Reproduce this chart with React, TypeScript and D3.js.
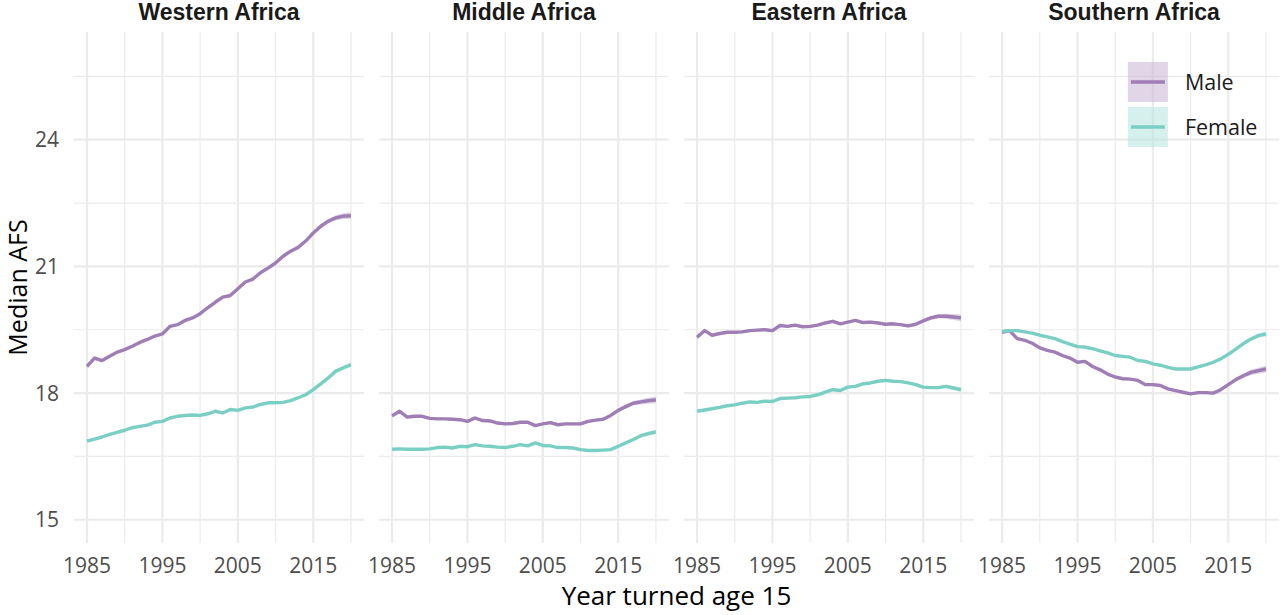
import * as d3 from 'd3';

const width = 1280;
const height = 615;
const margin = { top: 32, left: 73.8, bottom: 72, right: 0.8 };
const panelGap = 14.7;

const years = d3.range(1985, 2021);
const regions = ['Western Africa', 'Middle Africa', 'Eastern Africa', 'Southern Africa'];
const sexes = ['Male', 'Female'];
const xTicks = [1985, 1995, 2005, 2015];
const xMinor = [1990, 2000, 2010, 2020];
const yTicks = [15, 18, 21, 24];
const yMinor = [16.5, 19.5, 22.5, 25.5];

// median AFS by year turned 15
const westMale = [18.63, 18.83, 18.77, 18.87, 18.97, 19.03, 19.11, 19.2, 19.27, 19.35, 19.4, 19.58, 19.62, 19.72, 19.78, 19.88, 20.02, 20.15, 20.27, 20.31, 20.47, 20.63, 20.7, 20.85, 20.96, 21.08, 21.24, 21.36, 21.45, 21.6, 21.79, 21.95, 22.07, 22.15, 22.19, 22.2];
const westFemale = [16.86, 16.91, 16.96, 17.02, 17.07, 17.12, 17.18, 17.21, 17.24, 17.31, 17.33, 17.41, 17.45, 17.47, 17.48, 17.47, 17.51, 17.57, 17.53, 17.61, 17.59, 17.65, 17.67, 17.73, 17.77, 17.77, 17.78, 17.82, 17.89, 17.96, 18.08, 18.22, 18.36, 18.52, 18.6, 18.67];
const middleMale = [17.46, 17.57, 17.43, 17.45, 17.45, 17.4, 17.39, 17.39, 17.38, 17.37, 17.33, 17.41, 17.35, 17.34, 17.29, 17.27, 17.28, 17.31, 17.31, 17.23, 17.27, 17.3, 17.25, 17.27, 17.27, 17.27, 17.33, 17.36, 17.38, 17.47, 17.59, 17.68, 17.76, 17.79, 17.82, 17.84];
const middleFemale = [16.67, 16.68, 16.67, 16.67, 16.67, 16.68, 16.71, 16.72, 16.7, 16.74, 16.73, 16.78, 16.75, 16.74, 16.72, 16.71, 16.74, 16.78, 16.75, 16.82, 16.76, 16.75, 16.71, 16.71, 16.7, 16.66, 16.64, 16.64, 16.65, 16.66, 16.74, 16.82, 16.9, 16.99, 17.04, 17.08];
const eastMale = [19.32, 19.48, 19.37, 19.41, 19.44, 19.44, 19.45, 19.48, 19.49, 19.5, 19.48, 19.6, 19.58, 19.61, 19.57, 19.58, 19.61, 19.66, 19.7, 19.64, 19.68, 19.72, 19.67, 19.68, 19.66, 19.63, 19.64, 19.62, 19.59, 19.63, 19.71, 19.78, 19.82, 19.82, 19.8, 19.78];
const eastFemale = [17.57, 17.6, 17.63, 17.66, 17.7, 17.72, 17.76, 17.79, 17.78, 17.81, 17.8, 17.87, 17.88, 17.89, 17.91, 17.92, 17.96, 18.02, 18.08, 18.06, 18.14, 18.16, 18.22, 18.24, 18.28, 18.3, 18.28, 18.27, 18.24, 18.2, 18.14, 18.13, 18.13, 18.16, 18.12, 18.08];
const southMale = [19.44, 19.48, 19.29, 19.25, 19.18, 19.07, 19.01, 18.97, 18.89, 18.83, 18.73, 18.75, 18.63, 18.55, 18.45, 18.38, 18.34, 18.33, 18.3, 18.2, 18.2, 18.18, 18.1, 18.06, 18.02, 17.98, 18.01, 18.01, 18.0, 18.08, 18.2, 18.32, 18.41, 18.49, 18.53, 18.57];
const southFemale = [19.46, 19.48, 19.48, 19.45, 19.42, 19.37, 19.33, 19.29, 19.22, 19.16, 19.1, 19.09, 19.05, 19.0, 18.95, 18.89, 18.87, 18.85, 18.77, 18.75, 18.69, 18.66, 18.61, 18.57, 18.57, 18.57, 18.62, 18.67, 18.73, 18.81, 18.92, 19.04, 19.17, 19.28, 19.36, 19.4];
// half width of the uncertainty band
const maleCi = [0.04, 0.03, 0.03, 0.03, 0.03, 0.03, 0.03, 0.03, 0.03, 0.03, 0.03, 0.03, 0.03, 0.03, 0.03, 0.03, 0.03, 0.03, 0.03, 0.03, 0.03, 0.03, 0.03, 0.03, 0.03, 0.03, 0.03, 0.03, 0.03, 0.04, 0.04, 0.05, 0.05, 0.06, 0.07, 0.08];
const femaleCi = [0.03, 0.02, 0.02, 0.02, 0.02, 0.02, 0.02, 0.02, 0.02, 0.02, 0.02, 0.02, 0.02, 0.02, 0.02, 0.02, 0.02, 0.02, 0.02, 0.02, 0.02, 0.02, 0.02, 0.02, 0.02, 0.02, 0.02, 0.02, 0.02, 0.03, 0.03, 0.03, 0.04, 0.04, 0.05, 0.06];

const seriesByRegion = [
  [westMale, westFemale],
  [middleMale, middleFemale],
  [eastMale, eastFemale],
  [southMale, southFemale],
];
const ciBySex = [maleCi, femaleCi];
const lineColors = ['#9f7db5', '#7acfc5'];
const bandColors = ['#c9b3d6', '#b5e4df'];

const font = '"Open Sans", "Liberation Sans", sans-serif';
const grid = '#ebebeb';

export default function App() {
  const panelW = (width - margin.left - margin.right - 3 * panelGap) / 4;
  const panelBottom = height - margin.bottom;

  const x = d3.scaleLinear().domain([1983.25, 2021.75]).range([0, panelW]);
  const y = d3.scaleLinear().domain([14.45, 26.55]).range([panelBottom, margin.top]);

  const line = d3.line<number>()
    .x((_, i) => x(years[i]))
    .y((d) => y(d));

  const band = (vals: number[], ci: number[]) =>
    d3.area<number>()
      .x((_, i) => x(years[i]))
      .y0((d, i) => y(d - ci[i]))
      .y1((d, i) => y(d + ci[i]))(vals) || '';

  const lastLeft = margin.left + 3 * (panelW + panelGap);
  const legendX = lastLeft + 139;

  return (
    <svg width={width} height={height} style={{ position: 'absolute', left: 0, top: 0, background: '#fff' }}>
      {regions.map((region, p) => {
        const left = margin.left + p * (panelW + panelGap);
        return (
          <g key={region} transform={`translate(${left},0)`}>
            {yMinor.map((v) => (
              <line key={'ym' + v} x1={0} x2={panelW} y1={y(v)} y2={y(v)} stroke={grid} strokeWidth={1.2} />
            ))}
            {xMinor.map((v) => (
              <line key={'xm' + v} x1={x(v)} x2={x(v)} y1={margin.top} y2={panelBottom} stroke={grid} strokeWidth={1.2} />
            ))}
            {yTicks.map((v) => (
              <line key={'y' + v} x1={0} x2={panelW} y1={y(v)} y2={y(v)} stroke={grid} strokeWidth={2.2} />
            ))}
            {xTicks.map((v) => (
              <line key={'x' + v} x1={x(v)} x2={x(v)} y1={margin.top} y2={panelBottom} stroke={grid} strokeWidth={2.2} />
            ))}
            {seriesByRegion[p].map((vals, s) => (
              <path key={'b' + s} d={band(vals, ciBySex[s])} fill={bandColors[s]} opacity={0.6} />
            ))}
            {seriesByRegion[p].map((vals, s) => (
              <path key={'l' + s} d={line(vals) || ''} fill="none" stroke={lineColors[s]}
                strokeWidth={3.4} strokeLinejoin="round" />
            ))}
            <text x={panelW / 2} y={20} textAnchor="middle" fontFamily='"Liberation Sans", Arial, sans-serif'
              fontWeight="bold" fontSize={23} fill="#1a1a1a">{region}</text>
            {xTicks.map((v) => (
              <text key={'t' + v} x={x(v)} y={573} textAnchor="middle" fontFamily={font}
                fontSize={21} fill="#4d4d4d">{v}</text>
            ))}
          </g>
        );
      })}
      {yTicks.map((v) => (
        <text key={'yt' + v} x={59} y={y(v)} dy="0.36em" textAnchor="end" fontFamily={font}
          fontSize={21} fill="#4d4d4d">{v}</text>
      ))}
      <text transform={`translate(27,${(margin.top + panelBottom) / 2}) rotate(-90)`} textAnchor="middle"
        fontFamily={font} fontSize={25} fill="#000">Median AFS</text>
      <text x={(margin.left + width - margin.right) / 2} y={605} textAnchor="middle"
        fontFamily={font} fontSize={26} fill="#000">Year turned age 15</text>
      {sexes.map((sex, s) => {
        const ky = 62 + s * 45;
        return (
          <g key={sex}>
            <rect x={legendX} y={ky} width={40} height={40} fill={bandColors[s]} opacity={0.55} />
            <line x1={legendX + 3} x2={legendX + 37} y1={ky + 20} y2={ky + 20} stroke={lineColors[s]} strokeWidth={3.4} />
            <text x={legendX + 57} y={ky + 20} dy="0.36em" fontFamily={font} fontSize={21.5} fill="#1a1a1a">{sex}</text>
          </g>
        );
      })}
    </svg>
  );
}
